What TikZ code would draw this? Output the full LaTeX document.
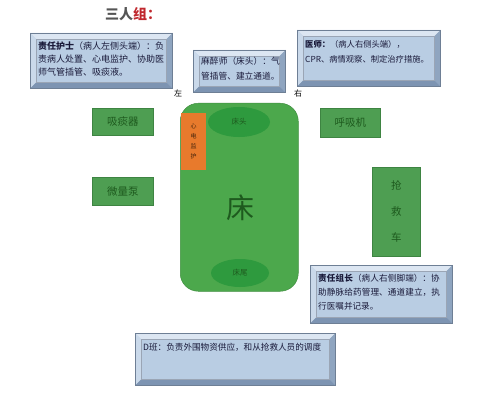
\documentclass[tikz,border=0pt]{standalone}
\usepackage{fontspec}
\setmainfont{Liberation Serif}
\newfontfamily\cjk{Noto Sans CJK SC}
\XeTeXlinebreaklocale "zh"
\XeTeXlinebreakskip = 0pt plus 1pt
\usetikzlibrary{calc,shapes.geometric}
\definecolor{bedgreen}{HTML}{4CA84C}
\definecolor{headgreen}{HTML}{2E9A3E}
\definecolor{darkgreen}{HTML}{1E5A1E}
\definecolor{devgreen}{HTML}{4E9E52}
\definecolor{devborder}{HTML}{3E8442}
\definecolor{monorange}{HTML}{E87A2C}
\definecolor{boxfill}{HTML}{B9CDE3}
\definecolor{bevtop}{HTML}{DCE6F2}
\definecolor{bevleft}{HTML}{CAD9EA}
\definecolor{bevright}{HTML}{8FA5C0}
\definecolor{bevbot}{HTML}{7D94B2}
\definecolor{bevline}{HTML}{6E7F95}
\definecolor{txtnavy}{HTML}{1A1A3A}
\definecolor{titlered}{HTML}{C0282E}
\definecolor{titlegray}{HTML}{555555}
\tikzset{
  bevbox/.style={draw=bevline, line width=0.6pt, fill=boxfill, anchor=north west, inner sep=0pt},
  boxtext/.style={anchor=north west, inner sep=0pt, align=left, text=txtnavy, font=\cjk\fontsize{8.8}{13}\selectfont},
  device/.style={draw=devborder, line width=0.6pt, fill=devgreen, anchor=north west, inner sep=0pt},
  devtext/.style={text=darkgreen, font=\cjk\fontsize{10.5}{12}\selectfont},
  side/.style={font=\cjk\fontsize{8}{10}\selectfont, text=black},
}
\newcommand\bevelize[1]{%
  \fill[bevtop] (#1.north west) -- (#1.north east) -- ([shift={(-6pt,-6pt)}]#1.north east) -- ([shift={(6pt,-6pt)}]#1.north west) -- cycle;
  \fill[bevleft] (#1.north west) -- (#1.south west) -- ([shift={(6pt,6pt)}]#1.south west) -- ([shift={(6pt,-6pt)}]#1.north west) -- cycle;
  \fill[bevright] (#1.north east) -- (#1.south east) -- ([shift={(-6pt,6pt)}]#1.south east) -- ([shift={(-6pt,-6pt)}]#1.north east) -- cycle;
  \fill[bevbot] (#1.south west) -- (#1.south east) -- ([shift={(-6pt,6pt)}]#1.south east) -- ([shift={(6pt,6pt)}]#1.south west) -- cycle;
  \draw[bevline, line width=0.6pt] (#1.north west) rectangle (#1.south east);
  \draw[bevline!70, line width=0.4pt] ([shift={(6pt,-6pt)}]#1.north west) rectangle ([shift={(-6pt,6pt)}]#1.south east);
}
\begin{document}
\begin{tikzpicture}[x=1pt,y=-1pt]
\useasboundingbox[fill=white] (0,0) rectangle (500,401);

% title
\node[anchor=west, inner sep=0pt, font=\cjk\bfseries\fontsize{14}{16}\selectfont] (title) at (105,14)
  {\textcolor{titlegray}{三人}\textcolor{titlered}{组：}};

% bevel boxes
\node[bevbox, minimum width=142pt, minimum height=55pt] (nurse) at (30,33) {};
\bevelize{nurse}
\node[boxtext, text width=126pt, font=\cjk\fontsize{9}{13}\selectfont] (nursetxt) at (38,42)
  {\textbf{责任护士}（病人左侧头端）：负责病人处置、心电监护、协助医师气管插管、吸痰液。};

\node[bevbox, minimum width=92pt, minimum height=42pt] (anes) at (193,50) {};
\bevelize{anes}
\node[boxtext, text width=80pt, font=\cjk\fontsize{8.7}{15}\selectfont] (anestxt) at (201,57)
  {麻醉师（床头）：气管插管、建立通道。};

\node[bevbox, minimum width=143pt, minimum height=56pt] (doctor) at (297,30) {};
\bevelize{doctor}
\node[boxtext, text width=130pt, font=\cjk\fontsize{8.3}{15}\selectfont] (doctortxt) at (305,40)
  {\textbf{医师：}（病人右侧头端），\\CPR、病情观察、制定治疗措施。};

\node[bevbox, minimum width=142pt, minimum height=58pt] (leader) at (310,265) {};
\bevelize{leader}
\node[boxtext, text width=124pt, font=\cjk\fontsize{8.6}{14}\selectfont] (leadertxt) at (318,274)
  {\textbf{责任组长}（病人右侧脚端）：协助静脉给药管理、通道建立，执行医嘱并记录。};

\node[bevbox, minimum width=200pt, minimum height=52pt] (dshift) at (135,333) {};
\bevelize{dshift}
\node[boxtext, text width=186pt, font=\cjk\fontsize{8.6}{13}\selectfont] (dshifttxt) at (143,343)
  {D班：负责外围物资供应，和从抢救人员的调度};

% left / right labels
\node[side] (left) at (178,93) {左};
\node[side] (right) at (298,93) {右};

% bed
\node[draw=bedgreen!85!black, line width=0.5pt, fill=bedgreen, rounded corners=18pt, anchor=north west,
  minimum width=118pt, minimum height=188pt, inner sep=0pt] (bed) at (180,103) {};
\node[ellipse, fill=headgreen, minimum width=62pt, minimum height=30pt, inner sep=0pt,
  text=darkgreen, font=\cjk\fontsize{7.5}{9}\selectfont] (head) at (239,122) {床头};
\node[ellipse, fill=headgreen, minimum width=58pt, minimum height=28pt, inner sep=0pt,
  text=darkgreen, font=\cjk\fontsize{7.5}{9}\selectfont] (foot) at (240,273) {床尾};
\node[text=darkgreen, font=\cjk\fontsize{28}{30}\selectfont, inner sep=0pt] (bedlabel) at (240,208) {床};
\node[fill=monorange, anchor=north west, minimum width=25pt, minimum height=57pt, inner sep=0pt,
  text=black!70!monorange, font=\cjk\fontsize{6}{10}\selectfont, align=center] (monitor) at (181,113)
  {心\\电\\监\\护};

% devices
\node[device, minimum width=61pt, minimum height=27pt] (suction) at (92,108) {};
\node[devtext] (suctiontxt) at (suction.center) {吸痰器};
\node[device, minimum width=61pt, minimum height=28pt] (pump) at (92,177) {};
\node[devtext] (pumptxt) at (pump.center) {微量泵};
\node[device, minimum width=60pt, minimum height=29pt] (vent) at (320,108) {};
\node[devtext] (venttxt) at (vent.center) {呼吸机};
\node[device, minimum width=48pt, minimum height=89pt] (cart) at (372,167) {};
\node[devtext, font=\cjk\fontsize{10.5}{26}\selectfont, align=center] (carttxt) at (cart.center) {抢\\救\\车};
\end{tikzpicture}
\end{document}
